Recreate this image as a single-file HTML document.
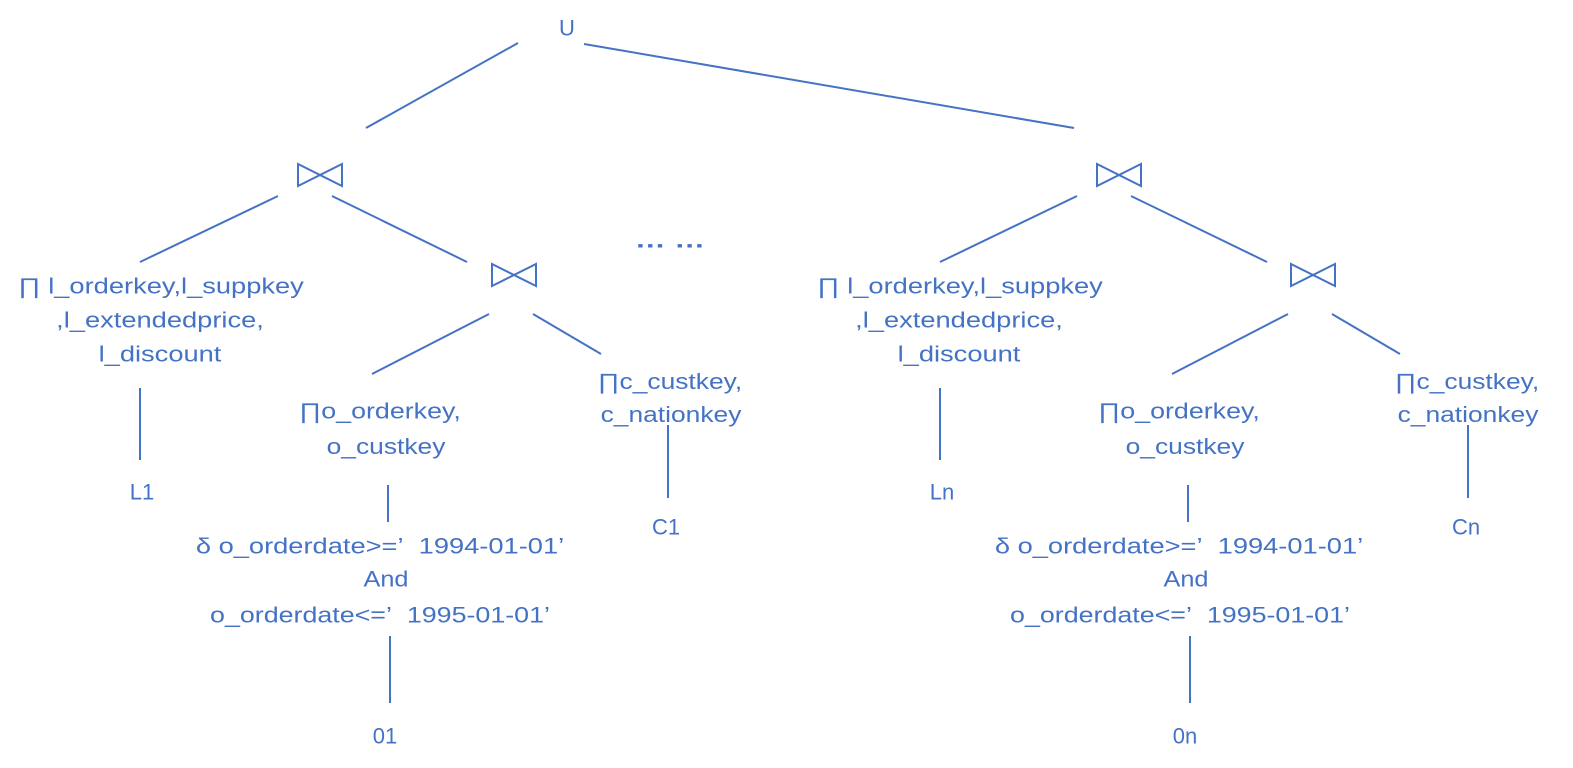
<!DOCTYPE html>
<html><head><meta charset="utf-8"><style>
html,body{margin:0;padding:0;background:#fff;}
svg{display:block;}
text{font-family:"Liberation Sans","Noto Sans CJK SC",sans-serif;font-size:22px;fill:#4472C4;}
</style></head><body>
<svg width="1573" height="768" viewBox="0 0 1573 768" xmlns="http://www.w3.org/2000/svg">
<g stroke="#4472C4" stroke-width="2" fill="none">
<line x1="518" y1="43" x2="366" y2="128"/>
<line x1="584" y1="44" x2="1074" y2="128"/>
<path d="M298,164 L298,186 L342,164 L342,186 Z"/>
<path d="M1097,164 L1097,186 L1141,164 L1141,186 Z"/>
<path d="M492,264 L492,286 L536,264 L536,286 Z"/>
<path d="M1291,264 L1291,286 L1335,264 L1335,286 Z"/>
<line x1="278" y1="196" x2="140" y2="262"/>
<line x1="332" y1="196" x2="467" y2="262"/>
<line x1="1077" y1="196" x2="940" y2="262"/>
<line x1="1131" y1="196" x2="1267" y2="262"/>
<line x1="489" y1="314" x2="372" y2="374"/>
<line x1="533" y1="314" x2="601" y2="354"/>
<line x1="1288" y1="314" x2="1172" y2="374"/>
<line x1="1332" y1="314" x2="1400" y2="354"/>
<line x1="140" y1="388" x2="140" y2="460"/>
<line x1="388" y1="485" x2="388" y2="522"/>
<line x1="390" y1="636" x2="390" y2="703"/>
<line x1="668" y1="425" x2="668" y2="498"/>
<line x1="940" y1="388" x2="940" y2="460"/>
<line x1="1188" y1="485" x2="1188" y2="522"/>
<line x1="1190" y1="636" x2="1190" y2="703"/>
<line x1="1468" y1="425" x2="1468" y2="498"/>
</g>
<g text-anchor="middle" dominant-baseline="central">
<text x="567" y="28">U</text>
<text transform="translate(670 240) scale(1.4 1)" font-weight="bold">… …</text>
<text x="142" y="492">L1</text>
<text x="666" y="527">C1</text>
<text x="385" y="736">01</text>
<text x="942" y="492">Ln</text>
<text x="1466" y="527">Cn</text>
<text x="1185" y="736">0n</text>

<text transform="translate(161 287) scale(1.24 1)">∏ l_orderkey,l_suppkey</text>
<text transform="translate(160 321) scale(1.24 1)">,l_extendedprice,</text>
<text transform="translate(160 355) scale(1.24 1)">l_discount</text>
<text transform="translate(380 412) scale(1.22 1)">∏o_orderkey,</text>
<text transform="translate(386 447) scale(1.2 1)">o_custkey</text>
<text transform="translate(670 382) scale(1.2 1)">∏c_custkey,</text>
<text transform="translate(671 415) scale(1.2 1)">c_nationkey</text>
<text transform="translate(380 547) scale(1.24 1)">δ o_orderdate&gt;=’&#160;&#160;1994-01-01’</text>
<text transform="translate(386 580) scale(1.15 1)">And</text>
<text transform="translate(380 616) scale(1.22 1)">o_orderdate&lt;=’&#160;&#160;1995-01-01’</text>

<text transform="translate(960 287) scale(1.24 1)">∏ l_orderkey,l_suppkey</text>
<text transform="translate(959 321) scale(1.24 1)">,l_extendedprice,</text>
<text transform="translate(959 355) scale(1.24 1)">l_discount</text>
<text transform="translate(1179 412) scale(1.22 1)">∏o_orderkey,</text>
<text transform="translate(1185 447) scale(1.2 1)">o_custkey</text>
<text transform="translate(1467 382) scale(1.2 1)">∏c_custkey,</text>
<text transform="translate(1468 415) scale(1.2 1)">c_nationkey</text>
<text transform="translate(1179 547) scale(1.24 1)">δ o_orderdate&gt;=’&#160;&#160;1994-01-01’</text>
<text transform="translate(1186 580) scale(1.15 1)">And</text>
<text transform="translate(1180 616) scale(1.22 1)">o_orderdate&lt;=’&#160;&#160;1995-01-01’</text>
</g>
</svg>
</body></html>
